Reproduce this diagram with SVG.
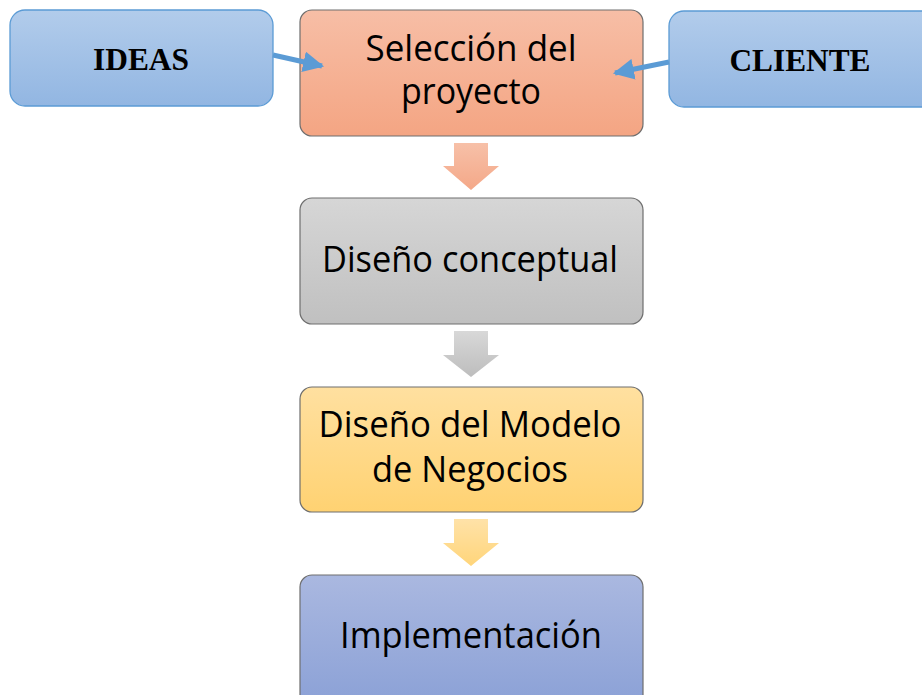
<svg xmlns="http://www.w3.org/2000/svg" width="922" height="695" viewBox="0 0 922 695">
<defs>
<linearGradient id="gBlueIn" x1="0" y1="0" x2="0" y2="1"><stop offset="0" stop-color="#B2CCEB"/><stop offset="1" stop-color="#92B6E2"/></linearGradient>
<linearGradient id="gOrange" x1="0" y1="0" x2="0" y2="1"><stop offset="0" stop-color="#F7BEA6"/><stop offset="1" stop-color="#F4A583"/></linearGradient>
<linearGradient id="gGray" x1="0" y1="0" x2="0" y2="1"><stop offset="0" stop-color="#D6D6D6"/><stop offset="1" stop-color="#C0C0C0"/></linearGradient>
<linearGradient id="gYellow" x1="0" y1="0" x2="0" y2="1"><stop offset="0" stop-color="#FFE0A0"/><stop offset="1" stop-color="#FFD272"/></linearGradient>
<linearGradient id="gPurple" x1="0" y1="0" x2="0" y2="1"><stop offset="0" stop-color="#AAB8E0"/><stop offset="1" stop-color="#8AA0D6"/></linearGradient>
<linearGradient id="aOrange" x1="0" y1="0" x2="0" y2="1"><stop offset="0" stop-color="#F7C0A8"/><stop offset="1" stop-color="#F4A888"/></linearGradient>
<linearGradient id="aGray" x1="0" y1="0" x2="0" y2="1"><stop offset="0" stop-color="#D8D8D8"/><stop offset="1" stop-color="#BDBDBD"/></linearGradient>
<linearGradient id="aYellow" x1="0" y1="0" x2="0" y2="1"><stop offset="0" stop-color="#FFE2A8"/><stop offset="1" stop-color="#FFD57A"/></linearGradient>
<marker id="ah" viewBox="0 0 10 10" refX="9" refY="5" markerWidth="4.2" markerHeight="4.2" markerUnits="strokeWidth" orient="auto"><path d="M0,0 L10,5 L0,10 z" fill="#5B9BD5"/></marker>
</defs>
<style>
.side{stroke:#5B9BD5;stroke-width:1.3;fill:url(#gBlueIn)}
.main{stroke:#6E6E6E;stroke-width:1.2}
.st{font-family:"Liberation Serif",serif;font-weight:bold;font-size:31px;fill:#000;text-anchor:middle}
.mt{font-family:"Open Sans","Noto Sans",sans-serif;font-size:36px;fill:#000;text-anchor:middle}
.conn{stroke:#5B9BD5;stroke-width:5;fill:none}
</style>
<rect width="922" height="695" fill="#fff"/>
<g id="ideas"><rect class="side" x="10" y="10" width="263" height="96" rx="15"/><text class="st" x="141" y="70" textLength="96" lengthAdjust="spacingAndGlyphs">IDEAS</text></g>
<g id="cliente"><rect class="side" x="669" y="11" width="270" height="96" rx="15"/><text class="st" x="800" y="71" textLength="141" lengthAdjust="spacingAndGlyphs">CLIENTE</text></g>
<g id="seleccion"><rect class="main" fill="url(#gOrange)" x="300" y="10" width="343" height="126" rx="12"/><text class="mt" x="471" y="61" textLength="211" lengthAdjust="spacingAndGlyphs">Selección del</text><text class="mt" x="471" y="104" textLength="140" lengthAdjust="spacingAndGlyphs">proyecto</text></g>
<g id="conceptual"><rect class="main" fill="url(#gGray)" x="300" y="198" width="343" height="126" rx="12"/><text class="mt" x="470" y="272" textLength="296" lengthAdjust="spacingAndGlyphs">Diseño conceptual</text></g>
<g id="modelo"><rect class="main" fill="url(#gYellow)" x="300" y="387" width="343" height="125" rx="12"/><text class="mt" x="470" y="437" textLength="303" lengthAdjust="spacingAndGlyphs">Diseño del Modelo</text><text class="mt" x="470" y="482" textLength="196" lengthAdjust="spacingAndGlyphs">de Negocios</text></g>
<g id="implementacion"><rect class="main" fill="url(#gPurple)" x="300" y="575" width="343" height="135" rx="12"/><text class="mt" x="471" y="648" textLength="262" lengthAdjust="spacingAndGlyphs">Implementación</text></g>
<g id="connectors">
<line class="conn" x1="273" y1="55" x2="322" y2="66" marker-end="url(#ah)"/>
<line class="conn" x1="669" y1="62" x2="615" y2="73" marker-end="url(#ah)"/>
<path d="M454,143 H488 V166 H499 L471,190 L443,166 H454 Z" fill="url(#aOrange)"/>
<path d="M454,331 H488 V355 H499 L471,377 L443,355 H454 Z" fill="url(#aGray)"/>
<path d="M454,519 H488 V543 H499 L471,566 L443,543 H454 Z" fill="url(#aYellow)"/>
</g>
</svg>
